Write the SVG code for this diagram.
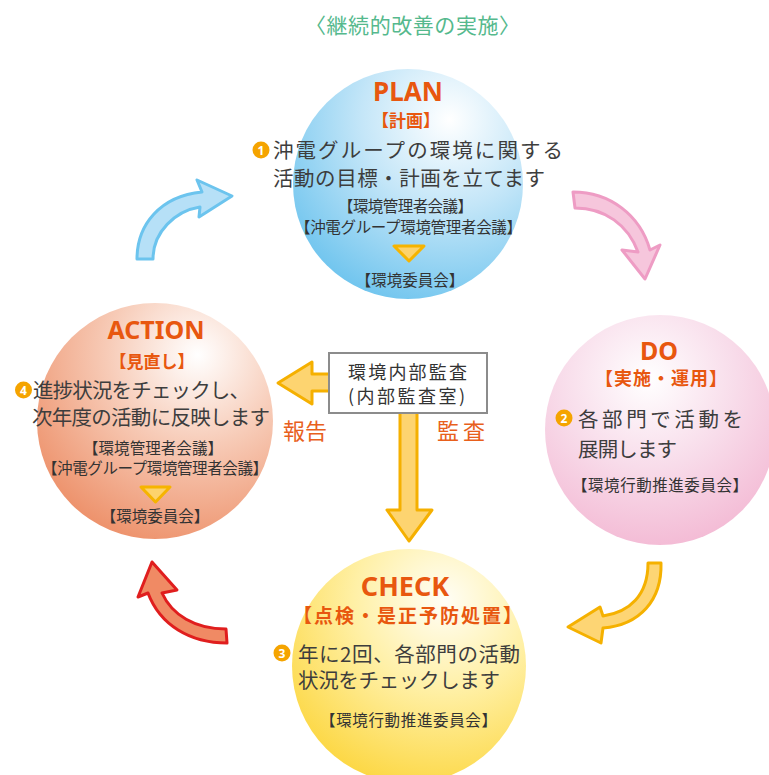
<svg xmlns="http://www.w3.org/2000/svg" width="769" height="775" viewBox="0 0 769 775">
<defs>
<radialGradient id="gPlan" cx="0.68" cy="0.22" r="0.85">
<stop offset="0" stop-color="#ffffff"/><stop offset="0.45" stop-color="#c4e6f8"/><stop offset="1" stop-color="#6ec4ee"/>
</radialGradient>
<radialGradient id="gAction" cx="0.68" cy="0.22" r="0.85">
<stop offset="0" stop-color="#ffffff"/><stop offset="0.45" stop-color="#f7cbb7"/><stop offset="1" stop-color="#ed9069"/>
</radialGradient>
<radialGradient id="gDo" cx="0.45" cy="0.28" r="0.85">
<stop offset="0" stop-color="#ffffff"/><stop offset="0.45" stop-color="#f8dcea"/><stop offset="1" stop-color="#f2b0ce"/>
</radialGradient>
<radialGradient id="gCheck" cx="0.65" cy="0.22" r="0.85">
<stop offset="0" stop-color="#fffef6"/><stop offset="0.45" stop-color="#fff0a6"/><stop offset="1" stop-color="#fcd63e"/>
</radialGradient>
<style>
text{font-family:"Noto Sans CJK JP","Noto Sans",sans-serif}
.head{fill:#e8570f;font-weight:bold;text-anchor:middle;font-family:"Noto Sans","Noto Sans CJK JP",sans-serif}
.sub{fill:#e8570f;font-weight:bold}
.mid{text-anchor:middle}
.body{fill:#3d3d3d;font-size:20.5px}
.small{fill:#333;font-size:15.5px}
.badge{fill:#f5a400}
.num{fill:#fff;font-size:12px;font-weight:bold;text-anchor:middle;font-family:"Noto Sans",sans-serif}
.tri{fill:#fdd36c;stroke:#f6b400;stroke-width:3;stroke-linejoin:round}
.lbl{fill:#e8601c;font-size:22px}
</style>
</defs>

<g id="title">
<text x="305" y="33" font-size="21" fill="#55b98d" textLength="215">〈継続的改善の実施〉</text>
</g>

<g id="plan">
<circle cx="408" cy="184" r="115" fill="url(#gPlan)"/>
<text class="head" x="408" y="101" font-size="26">PLAN</text>
<text class="sub mid" x="406" y="127" font-size="17">【計画】</text>
<circle class="badge" cx="261" cy="150" r="8.5"/><text class="num" x="261" y="154.5">1</text>
<text class="body" x="273" y="158" font-size="21.5" textLength="290">沖電グループの環境に関する</text>
<text class="body" x="273" y="186" font-size="21.5" textLength="272">活動の目標・計画を立てます</text>
<text class="small" x="338" y="212" textLength="135">【環境管理者会議】</text>
<text class="small" x="295" y="233" textLength="227">【沖電グループ環境管理者会議】</text>
<polygon class="tri" points="394,246 424,246 409,261"/>
<text class="small mid" x="410" y="286" font-size="15">【環境委員会】</text>
</g>

<g id="do">
<circle cx="660" cy="430" r="115" fill="url(#gDo)"/>
<text class="head" x="659" y="360" font-size="25">DO</text>
<text class="sub" x="595" y="385" font-size="18" textLength="132">【実施・運用】</text>
<circle class="badge" cx="564" cy="418" r="8.5"/><text class="num" x="564" y="422.5">2</text>
<text class="body" x="578" y="427" font-size="22" textLength="165">各部門で活動を</text>
<text class="body" x="578" y="457" font-size="22" textLength="99">展開します</text>
<text class="small" x="572" y="491" font-size="16" textLength="176">【環境行動推進委員会】</text>
</g>

<g id="check">
<circle cx="409" cy="666" r="117" fill="url(#gCheck)"/>
<text class="head" x="405" y="596" font-size="27">CHECK</text>
<text class="sub" x="293" y="623" font-size="19" textLength="229">【点検・是正予防処置】</text>
<circle class="badge" cx="282" cy="653" r="8.5"/><text class="num" x="282" y="657.5">3</text>
<text class="body" x="298" y="662" textLength="222">年に2回、各部門の活動</text>
<text class="body" x="298" y="688" textLength="202">状況をチェックします</text>
<text class="small" x="320" y="726" font-size="16" textLength="177">【環境行動推進委員会】</text>
</g>

<g id="action">
<circle cx="155" cy="421" r="118" fill="url(#gAction)"/>
<text class="head" x="156" y="339" font-size="25">ACTION</text>
<text class="sub mid" x="152" y="368" font-size="17">【見直し】</text>
<circle class="badge" cx="23.5" cy="390" r="8.5"/><text class="num" x="23.5" y="394.5">4</text>
<text class="body" x="33" y="398" textLength="217">進捗状況をチェックし、</text>
<text class="body" x="32" y="425" textLength="238">次年度の活動に反映します</text>
<text class="small" x="83" y="454" textLength="140">【環境管理者会議】</text>
<text class="small" x="42" y="474" textLength="226">【沖電グループ環境管理者会議】</text>
<polygon class="tri" points="141,487 170,487 155.5,502"/>
<text class="small mid" x="155" y="522" font-size="14.5">【環境委員会】</text>
</g>

<g id="connectors" stroke-linejoin="round" stroke-width="3">
<path d="M137,259 C137,225 160,196 202,192 L197,180 L232,196 L199,217 L200,207 C175,211 153,232 153,259 Z" fill="#b6e0f7" stroke="#6cc4ee"/>
<path d="M573,192 C610,192 640,215 650,250 L660,245 L645,279 L622,250 L638,252 C628,225 605,208 575,208 Z" fill="#f6c6dc" stroke="#ee9cc4"/>
<path d="M648,563 L661,563 C662,600 640,625 603,628 L601,643 L568,627 L600,607 L603,616 C630,612 648,595 648,563 Z" fill="#fdd574" stroke="#f5b100"/>
<path d="M226,629 L227,643 C190,643 160,625 148,593 L138,597 L152,562 L177,590 L162,593 C172,615 195,629 226,629 Z" fill="#f08a64" stroke="#e01e1e"/>
<path d="M332,374 L312,374 L312,362 L278,383 L312,404 L312,391 L332,391 Z" fill="#fdd470" stroke="#f5b000"/>
<path d="M400,410 L417,410 L417,510 L432,510 L409,541 L387,510 L400,510 Z" fill="#fdd470" stroke="#f5b000"/>
<text class="lbl" x="283" y="439" textLength="44" stroke="none">報告</text>
<text class="lbl" x="437" y="439" textLength="48" stroke="none">監査</text>
</g>

<g id="audit">
<rect x="329" y="353" width="158" height="60" fill="#fff" stroke="#8c8c8c" stroke-width="2"/>
<text x="348" y="379" font-size="18" fill="#333" textLength="119">環境内部監査</text>
<text x="348" y="403" font-size="18" fill="#333" textLength="117">(内部監査室)</text>
</g>
</svg>
